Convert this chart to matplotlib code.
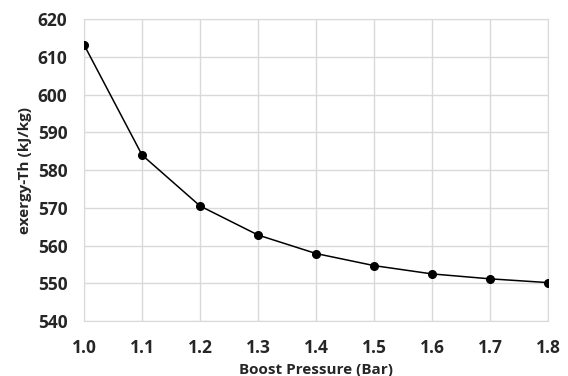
import matplotlib
matplotlib.use("Agg")
import matplotlib.pyplot as plt

pressure = [1.0, 1.1, 1.2, 1.3, 1.4, 1.5, 1.6, 1.7, 1.8]
exergy = [613.2, 584.0, 570.5, 562.8, 557.9, 554.7, 552.5, 551.2, 550.2]
yticks = [540, 550, 560, 570, 580, 590, 600, 610, 620]

plt.rcParams['font.family'] = ['Open Sans', 'DejaVu Sans']

fig = plt.figure(figsize=(5.68, 3.76), dpi=100)
ax = fig.add_axes([0.148, 0.146, 0.817, 0.803])
ax.plot(pressure, exergy, color='black', lw=1.1, marker='o', markersize=5.5, zorder=3)
ax.set_xlim(1.0, 1.8)
ax.set_ylim(540, 620)
ax.set_xticks(pressure)
ax.set_xticklabels([f"{p:.1f}" for p in pressure])
ax.set_yticks(yticks)
ax.grid(True, color='#d9d9d9', lw=1)
ax.set_axisbelow(True)
for s in ax.spines.values():
    s.set_color('#d9d9d9')
ax.tick_params(length=0, labelsize=12.5, colors='#262626')
ax.tick_params(axis='y', pad=12)
ax.tick_params(axis='x', pad=13)
for lbl in ax.get_xticklabels() + ax.get_yticklabels():
    lbl.set_fontweight('bold')
ax.set_xlabel('Boost Pressure (Bar)', fontsize=11, fontweight='bold', color='#262626', labelpad=4)
ax.set_ylabel('exergy-Th (kJ/kg)', fontsize=11, fontweight='bold', color='#262626', labelpad=4)
fig.savefig('out.png', dpi=100)
